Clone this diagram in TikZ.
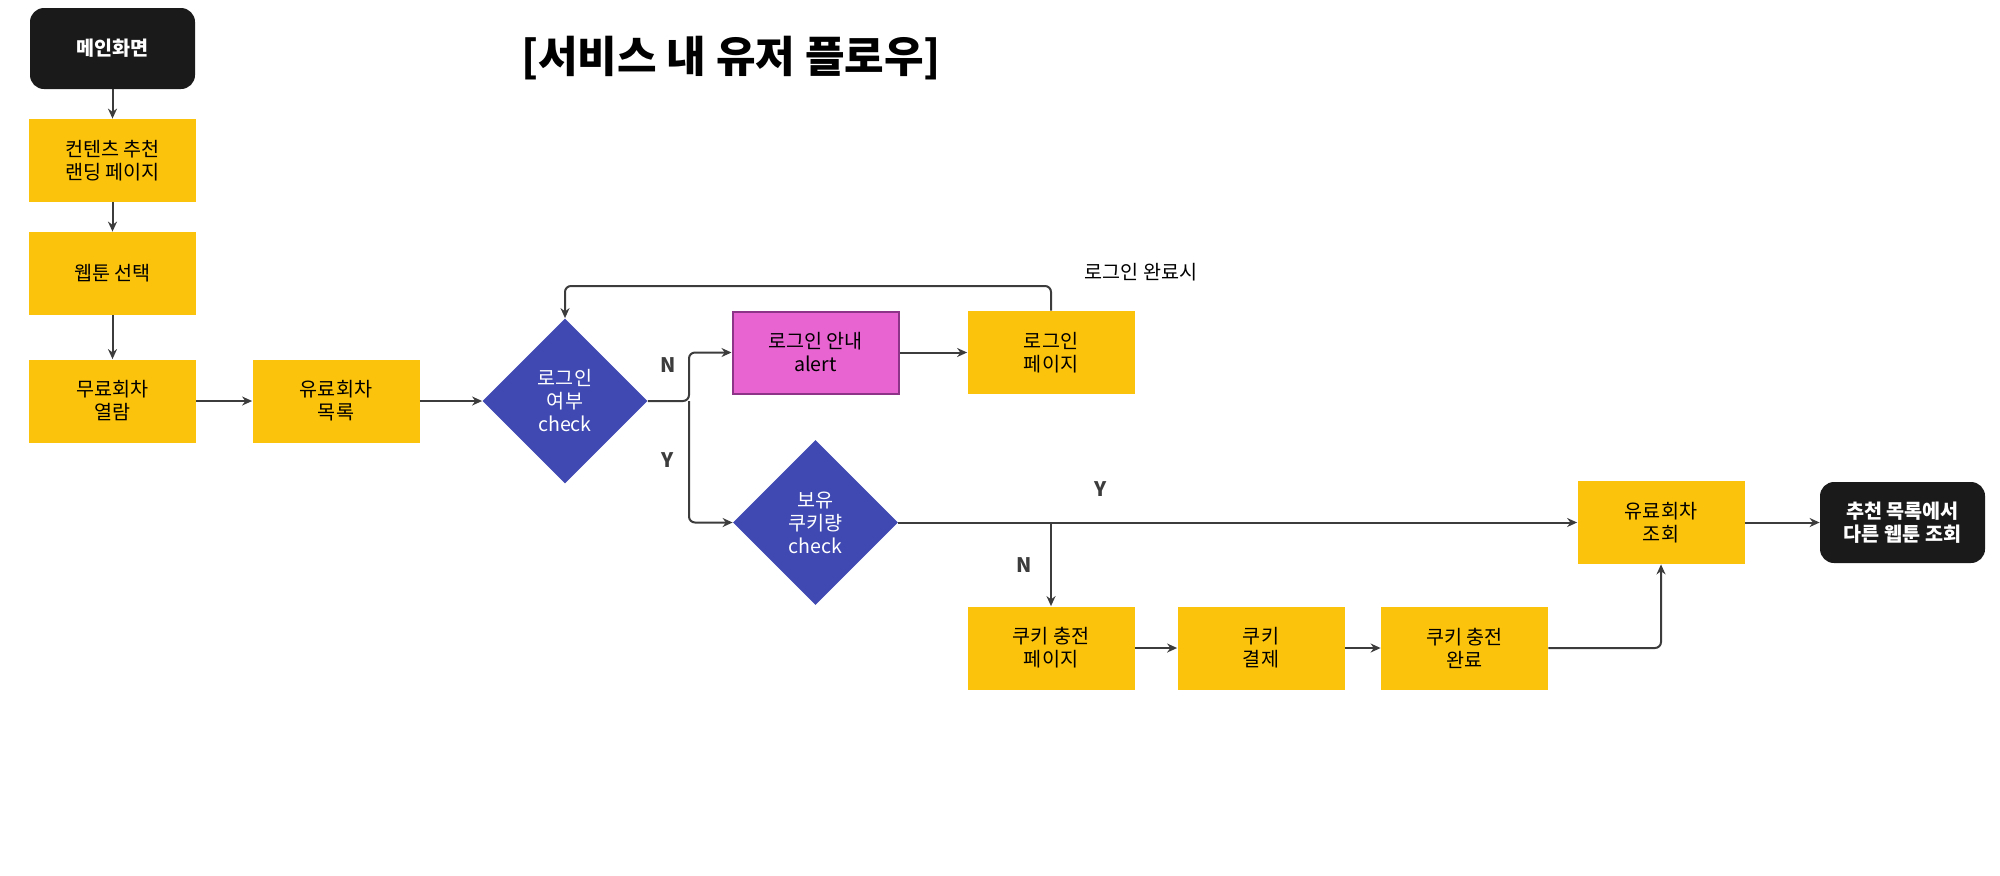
\documentclass[tikz,border=0pt]{standalone}
\usepackage{fontspec}
\setmainfont{Noto Sans CJK KR}
\usetikzlibrary{arrows.meta,shapes.geometric}
\definecolor{boxyel}{HTML}{FCC30C}
\definecolor{boxpink}{HTML}{E864D0}
\definecolor{pinkline}{HTML}{8E3488}
\definecolor{chkblue}{HTML}{3F49B1}
\definecolor{endblack}{HTML}{1A1A1A}
\definecolor{flowgray}{HTML}{3C3C3C}

\begin{document}
\begin{tikzpicture}[x=0.5pt,y=-0.5pt,>=Stealth,
  every node/.style={font=\fontsize{9.8}{11.5}\selectfont,align=center},
  yelbox/.style={fill=boxyel,minimum width=83.5pt,minimum height=41.5pt,inner sep=0pt},
  pinkbox/.style={fill=boxpink,draw=pinkline,line width=1pt,minimum width=83pt,minimum height=41pt,inner sep=0pt},
  endbox/.style={fill=endblack,text=white,rounded corners=7pt,minimum width=82.5pt,minimum height=40.5pt,inner sep=0pt,
    font=\fontsize{9.8}{11.5}\selectfont\bfseries},
  chkbox/.style={diamond,aspect=1,fill=chkblue,text=white,minimum width=82.5pt,minimum height=82.5pt,inner sep=0pt},
  flow/.style={-{Stealth[length=5pt,width=4.5pt]},draw=flowgray,line width=1pt,rounded corners=3pt},
  yn/.style={font=\fontsize{10}{12}\selectfont\bfseries,text=flowgray}]
\useasboundingbox (0,0) rectangle (2000,875);
% ---------- 제목 ----------
\node[font=\fontsize{21.5}{24}\selectfont\bfseries] (title) at (731,58) {[서비스 내 유저 플로우]};
% ---------- 왼쪽 세로 흐름 ----------
\node[endbox] (main) at (112.5,48.5) {메인화면};
\node[yelbox] (landing) at (112.5,160.5) {컨텐츠 추천\\랜딩 페이지};
\node[yelbox] (select) at (112.5,273.5) {웹툰 선택};
\node[yelbox] (free) at (112.5,401) {무료회차\\열람};
\node[yelbox] (paidlist) at (336,401) {유료회차\\목록};
% ---------- 로그인 확인 ----------
\node[chkbox] (logincheck) at (565,401) {로그인\\여부\\check};
\node[pinkbox] (alert) at (815.5,352.5) {로그인 안내\\alert};
\node[yelbox] (loginpage) at (1051,352.5) {로그인\\페이지};
\node (logindone) at (1141,272) {로그인 완료시};
% ---------- 쿠키 확인 ----------
\node[chkbox] (cookiecheck) at (815.5,522.5) {보유\\쿠키량\\check};
\node[yelbox] (chargepage) at (1051,648) {쿠키 충전\\페이지};
\node[yelbox] (pay) at (1261,648) {쿠키\\결제};
\node[yelbox] (chargedone) at (1464.5,648) {쿠키 충전\\완료};
\node[yelbox] (paidview) at (1661,522.5) {유료회차\\조회};
\node[endbox] (other) at (1902.5,522.5) {추천 목록에서\\다른 웹툰 조회};
% Y / N 표시
\node[yn] (loginN) at (668,365) {N};
\node[yn] (loginY) at (668,460) {Y};
\node[yn] (cookieY) at (1101,489) {Y};
\node[yn] (cookieN) at (1024,565) {N};
% ---------- 연결선 ----------
\coordinate (loginsplit) at (689,401);
\coordinate (looptop) at (1051,286);
\draw[flow] (main) -- (landing);
\draw[flow] (landing) -- (select);
\draw[flow] (select) -- (free);
\draw[flow] (free) -- (paidlist);
\draw[flow] (paidlist) -- (logincheck);
\draw[flow] (logincheck.east) -- (loginsplit) |- (alert.west);
\draw[flow] (loginsplit) |- (cookiecheck.west);
\draw[flow] (alert) -- (loginpage);
\draw[flow] (loginpage.north) -- (looptop) -| (logincheck.north);
\draw[flow] (cookiecheck.east) -- (paidview.west);
\draw[flow] (chargepage.north |- cookiecheck.east) -- (chargepage.north);
\draw[flow] (chargepage) -- (pay);
\draw[flow] (pay) -- (chargedone);
\draw[flow] (chargedone.east) -| (paidview.south);
\draw[flow] (paidview) -- (other);
\end{tikzpicture}
\end{document}
